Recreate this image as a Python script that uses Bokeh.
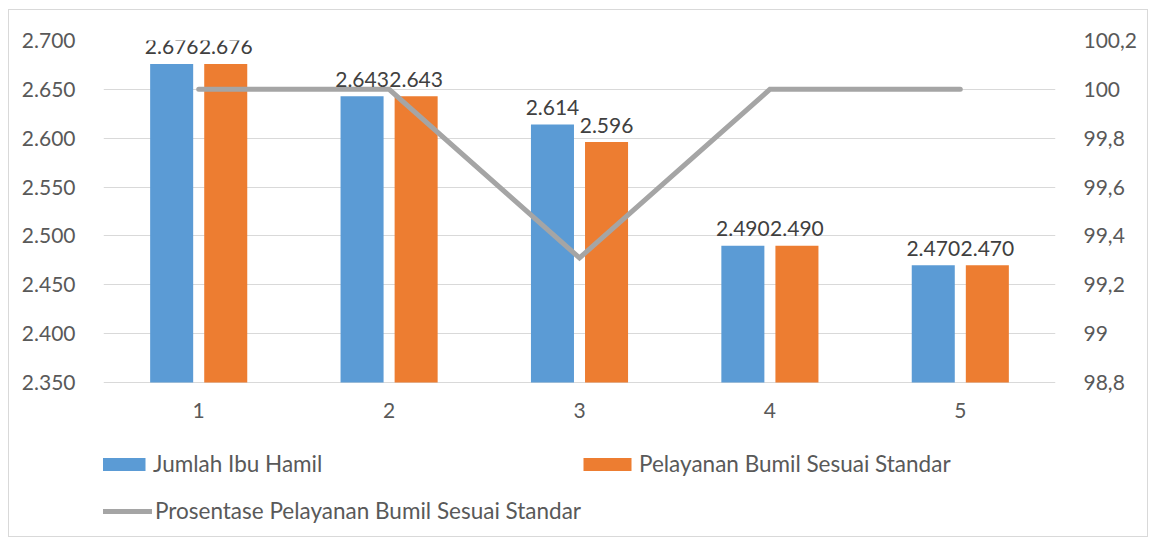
from bokeh.plotting import figure
from bokeh.models import (Range1d, LinearAxis, FixedTicker, CustomJSTickFormatter,
                          Legend, LegendItem, ColumnDataSource)
from bokeh.transform import dodge
from bokeh.core.properties import value
from bokeh.embed import file_html
from bokeh.resources import INLINE

categories = [1, 2, 3, 4, 5]
cat_labels = ["1", "2", "3", "4", "5"]
jumlah_ibu_hamil = [2676, 2643, 2614, 2490, 2470]
pelayanan_bumil = [2676, 2643, 2596, 2490, 2470]
prosentase = [100, 100, 99.31, 100, 100]
left_ticks = [2350, 2400, 2450, 2500, 2550, 2600, 2650, 2700]
right_ticks = [98.8, 99.0, 99.2, 99.4, 99.6, 99.8, 100.0, 100.2]

FONT = "Lato"
FS = "21px"
LEG_FS = "22.5px"
BLUE = "#5B9BD5"
ORANGE = "#ED7D31"
GRAY = "#A5A5A5"

# layout (pixels): plot area from top 30 to value-axis bottom 372, frame extended to 525
W, H = 1138, 526
TOP, AXIS_BOTTOM, FRAME_BOTTOM = 30, 372, 525
ext = (FRAME_BOTTOM - AXIS_BOTTOM) / (AXIS_BOTTOM - TOP)
l0, l1 = left_ticks[0], left_ticks[-1]
r0, r1_ = right_ticks[0], right_ticks[-1]

def fmt(v):
    return f"{v:,}".replace(",", ".")

src = ColumnDataSource(dict(
    x=categories,
    j=jumlah_ibu_hamil,
    p=pelayanan_bumil,
    jl=[fmt(v) for v in jumlah_ibu_hamil],
    pl=[fmt(v) for v in pelayanan_bumil],
    pct=prosentase,
    cl=cat_labels,
    base=[l0] * len(categories),
))

p = figure(width=W, height=H, output_backend="svg", toolbar_location=None,
           x_range=Range1d(0.5, 5.5),
           y_range=Range1d(l0 - (l1 - l0) * ext, l1),
           min_border_left=94, min_border_right=92, min_border_top=TOP,
           min_border_bottom=H - FRAME_BOTTOM)
p.extra_y_ranges = {"pct": Range1d(r0 - (r1_ - r0) * ext, r1_)}
p.outline_line_color = None
p.background_fill_color = "white"
p.border_fill_color = "white"
p.styles = {"outline": "1px solid #D9D9D9", "margin-left": "9px", "margin-top": "10px"}

off = 0.142
w = 0.226
r1 = p.vbar(x=dodge("x", -off, range=p.x_range), top="j", bottom=l0, width=w,
            source=src, fill_color=BLUE, line_color=None)
r2 = p.vbar(x=dodge("x", off, range=p.x_range), top="p", bottom=l0, width=w,
            source=src, fill_color=ORANGE, line_color=None)
r3 = p.line(x="x", y="pct", source=src, y_range_name="pct", line_color=GRAY,
            line_width=5, line_cap="round", line_join="miter")

for col, lab, dx in (("j", "jl", -off), ("p", "pl", off)):
    p.text(x=dodge("x", dx, range=p.x_range), y=col, text=lab, source=src,
           text_font=value(FONT), text_font_size=FS, text_color="#404040",
           text_align="center", text_baseline="alphabetic", y_offset=-17)

# category labels under the plot area
p.text(x="x", y="base", text="cl", source=src, text_font=value(FONT),
       text_font_size=FS, text_color="#595959", text_align="center",
       text_baseline="middle", y_offset=28)

p.xaxis.visible = False

p.yaxis.ticker = FixedTicker(ticks=left_ticks)
p.yaxis.formatter = CustomJSTickFormatter(code="""
const v = Math.round(tick);
return Math.floor(v/1000) + '.' + String(v % 1000).padStart(3, '0');
""")
p.yaxis.axis_line_color = None
p.yaxis.major_tick_line_color = None
p.yaxis.minor_tick_line_color = None
p.yaxis.major_label_standoff = 22

ra = LinearAxis(y_range_name="pct", ticker=FixedTicker(ticks=right_ticks),
                formatter=CustomJSTickFormatter(code="""
const s = (Math.round(tick*10)/10).toString();
return s.replace('.', ',');
"""))
ra.axis_line_color = None
ra.major_tick_line_color = None
ra.minor_tick_line_color = None
ra.major_label_standoff = 22
p.add_layout(ra, "right")

for ax in (p.yaxis[0], ra):
    ax.major_label_text_font = FONT
    ax.major_label_text_font_size = FS
    ax.major_label_text_color = "#595959"

p.xgrid.grid_line_color = None
p.ygrid.grid_line_color = "#D9D9D9"
p.ygrid.grid_line_width = 1

def style_legend(lg):
    lg.border_line_color = None
    lg.background_fill_alpha = 0
    lg.padding = 0
    lg.margin = 0
    lg.spacing = 0
    lg.label_text_font = FONT
    lg.label_text_font_size = LEG_FS
    lg.label_text_color = "#595959"

legA = Legend(items=[LegendItem(label="Jumlah Ibu Hamil", renderers=[r1]),
                     LegendItem(label="Pelayanan Bumil Sesuai Standar", renderers=[r2])],
              orientation="horizontal", location=(-12, 58),
              glyph_width=60, glyph_height=16, label_height=16, label_width=424,
              label_standoff=2)
style_legend(legA)
legB = Legend(items=[LegendItem(label="Prosentase Pelayanan Bumil Sesuai Standar", renderers=[r3])],
              orientation="horizontal", location=(-6, 11),
              glyph_width=55, glyph_height=16, label_height=16, label_standoff=3)
style_legend(legB)
p.add_layout(legA, "center")
p.add_layout(legB, "center")

open("out.html", "w").write(file_html(p, INLINE))
